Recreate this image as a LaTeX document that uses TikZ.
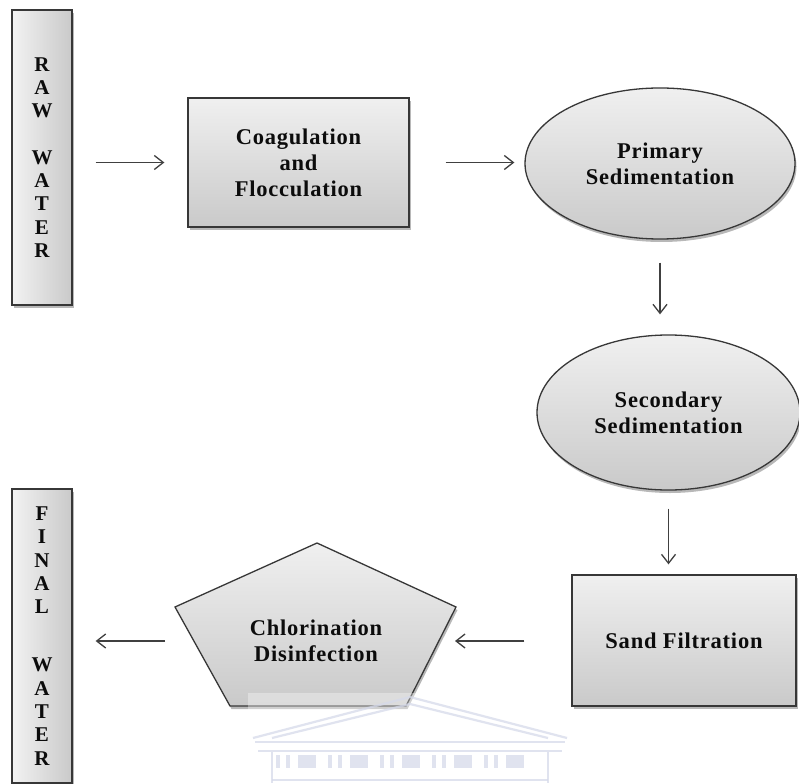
\documentclass[tikz,border=0pt]{standalone}
\usepackage{fontspec}
\setmainfont{Liberation Serif}
\usetikzlibrary{arrows.meta,shapes.geometric,shadows}
\definecolor{wm}{RGB}{214,218,234}
\definecolor{edge}{RGB}{55,55,55}
\definecolor{txt}{RGB}{12,12,12}
\newcommand\labfont{\fontsize{22.5}{26}\selectfont\bfseries\addfontfeature{LetterSpace=3.5}}
\newcommand\vfont{\fontsize{21}{23.3}\selectfont\bfseries}
\tikzset{
  shd/.style={drop shadow={shadow xshift=1.5pt,shadow yshift=-3pt,opacity=0.28,fill=black}},
  blk/.style={draw=edge,line width=1.3pt,top color=gray!12,bottom color=gray!42,shd,
    text=txt,font=\labfont,align=center,inner sep=0pt},
  vbar/.style={draw=edge,line width=1.3pt,left color=gray!10,right color=gray!42,shd,
    text=txt,font=\vfont,align=center,inner sep=0pt},
  arr/.style={draw=black!75,line width=1.2pt,
    -{Straight Barb[length=9pt,width=14pt,line width=1.3pt]}},
  wmline/.style={draw=wm,line width=2.2pt}
}
\begin{document}
\begin{tikzpicture}[x=1pt,y=-1pt]
\useasboundingbox (0,0) rectangle (799,783);
\fill[white] (0,0) rectangle (799,783);

% boxes
\node[vbar,minimum width=60pt,minimum height=295pt] (raw) at (42,157.5)
  {R\\A\\W\\[23.3pt]W\\A\\T\\E\\R};
\node[blk,minimum width=221pt,minimum height=129pt] (coag) at (298.5,162.5)
  {Coagulation\\and\\Flocculation};
\node[blk,ellipse,minimum width=270pt,minimum height=151pt] (prim) at (660,163.5)
  {Primary\\Sedimentation};
\node[blk,ellipse,minimum width=263pt,minimum height=155pt] (sec) at (668.5,412.5)
  {Secondary\\Sedimentation};
\node[blk,minimum width=224pt,minimum height=131pt] (sand) at (684,640.5)
  {Sand Filtration};
\path[blk] (317,543) -- (456,607) -- (406,706) -- (230,706) -- (175,607) -- cycle;
\node[font=\labfont,text=txt,align=center] (chl) at (316,641)
  {Chlorination\\Disinfection};
\node[vbar,minimum width=60pt,minimum height=294pt] (fin) at (42,636)
  {F\\I\\N\\A\\L\\[34.7pt]W\\A\\T\\E\\R};

\coordinate (pR) at (455,641);
\coordinate (pL) at (165,641);

% connectors
\draw[arr] ([xshift=23pt]raw.east |- coag.west) -- ([xshift=-23pt]coag.west);
\draw[arr] ([xshift=36pt]coag.east) -- ([xshift=-10pt]prim.west |- coag.east);
\draw[arr] ([yshift=-23pt]prim.south) -- ([yshift=20pt]sec.north -| prim.south);
\draw[arr] ([yshift=-18pt]sec.south) -- ([yshift=10pt]sand.north -| sec.south);
\draw[arr] ([xshift=-47pt]sand.west |- pR) -- (pR);
\draw[arr] (pL) -- ([xshift=23pt]fin.east |- pL);

% faint watermark
\fill[white,opacity=0.35] (248,693) rectangle (560,783);
\begin{scope}[opacity=0.75]
\draw[wmline] (253,738) -- (410,697) -- (567,738);
\draw[wmline] (272,738) -- (410,704) -- (548,738);
\draw[wmline] (255,742) -- (565,742);
\draw[wmline] (258,751) -- (562,751);
\draw[wmline] (272,752) -- (272,783);
\draw[wmline] (548,752) -- (548,783);
\draw[wmline] (272,780) -- (548,780);
\foreach \x in {0,52,104,156,208} {
  \fill[wm] (276+\x,755) rectangle (280+\x,768);
  \fill[wm] (286+\x,755) rectangle (290+\x,768);
  \fill[wm] (298+\x,755) rectangle (316+\x,768);
}
\end{scope}
\end{tikzpicture}
\end{document}
